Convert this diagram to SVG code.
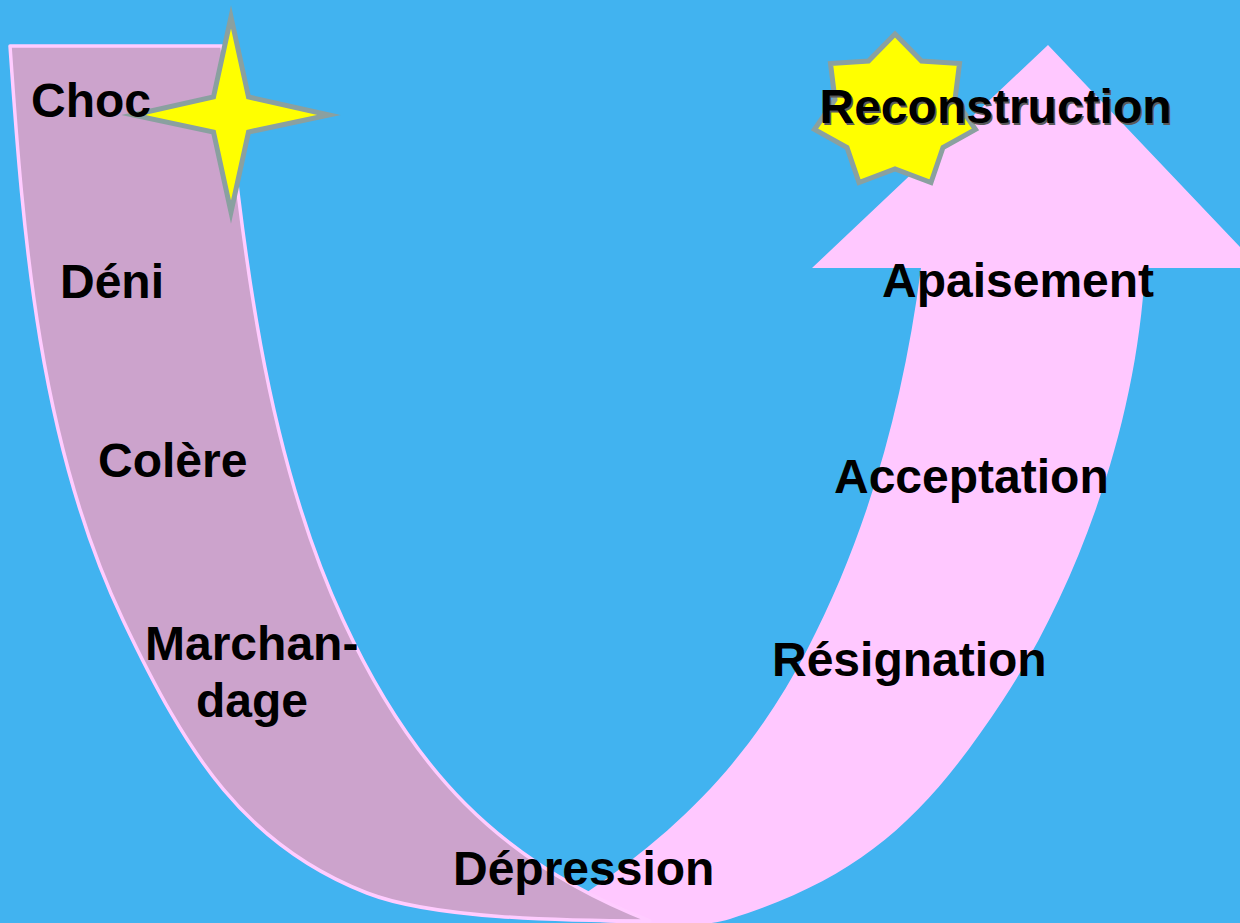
<svg xmlns="http://www.w3.org/2000/svg" width="1240" height="923" viewBox="0 0 1240 923">
<style>
.lbl{font-family:"Liberation Sans",Arial,sans-serif;font-weight:bold;font-size:48px;fill:#000}
.shadow{font-family:"Liberation Sans",Arial,sans-serif;font-weight:bold;font-size:48px;fill:#5a5a5a}
.star{fill:#FFFF00;stroke:#8AA0A0;stroke-width:5;stroke-linejoin:miter;stroke-miterlimit:10}
</style>
<rect x="0" y="0" width="1240" height="923" fill="#41B3F0"/>
<g id="connectors">
<path id="rising-arrow" fill="#FFC8FF" d="M 583,895 L 540,918 L 600,922 C 650,925 700,928.5 730,919 C 863,877 925.9,816.9 1003,700 C 1074.6,591.5 1137,428 1145,268 L 1260,268 L 1048,45 L 812,268 L 921,268 C 902.9,406.9 866.9,534.7 807,650 C 756.3,747.6 690.9,822.6 583,895 Z"/>
<path id="falling-band" fill="#CCA3CC" stroke="#FFCCFF" stroke-width="3.5" stroke-linejoin="round" d="M 222,46 L 10,46 C 23.5,241 39.5,444 123,620 C 187.2,755.6 245.8,845.9 367,893 C 432.2,918.3 560,921 650,921 C 498,862 411.5,767.8 343,620 C 263.2,447.7 242.6,245 222,46 Z"/>
</g>
<g id="star-choc">
<polygon class="star" points="231,17 248.5,97 329,115 248.5,132 231,212 213.5,132 133,115 213.5,97"/>
</g>
<g id="star-reconstruction">
<polygon class="star" points="895,34 921.5,61 959.5,63.5 955,99.5 975.5,129.5 943,147.5 931,182.5 895,169 859,182.5 847,147.5 814.5,129.5 835,99.5 830.5,63.5 868.5,61"/>
</g>
<g id="node-choc"><text class="lbl" x="31" y="117">Choc</text></g>
<g id="node-deni"><text class="lbl" x="60" y="298">Déni</text></g>
<g id="node-colere"><text class="lbl" x="98" y="477">Colère</text></g>
<g id="node-marchandage"><text class="lbl" x="145" y="660">Marchan-</text><text class="lbl" x="196" y="717">dage</text></g>
<g id="node-depression"><text class="lbl" x="453" y="885">Dépression</text></g>
<g id="node-resignation"><text class="lbl" x="772" y="676">Résignation</text></g>
<g id="node-acceptation"><text class="lbl" x="834" y="493">Acceptation</text></g>
<g id="node-apaisement"><text class="lbl" x="882" y="297">Apaisement</text></g>
<g id="node-reconstruction"><text class="shadow" x="821" y="124.5">Reconstruction</text><text class="lbl" x="819.5" y="123">Reconstruction</text></g>
</svg>
